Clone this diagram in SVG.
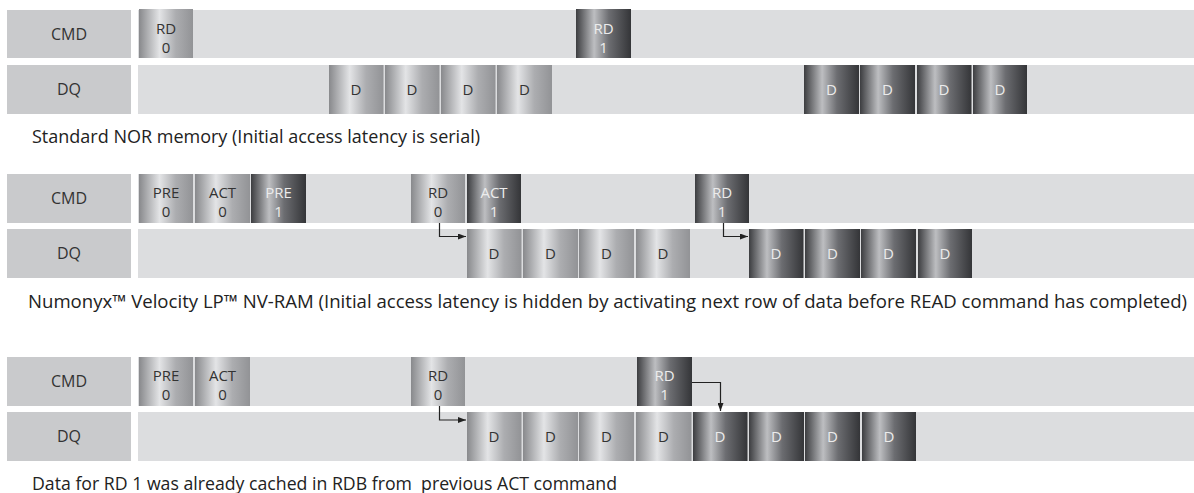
<svg xmlns="http://www.w3.org/2000/svg" width="1194" height="493" viewBox="0 0 1194 493">
<style>
.lbl{fill:#c9cacc}
.bar{fill:#dcdddf}
.t{font-family:"Open Sans","Liberation Sans",sans-serif;font-size:15px;fill:#333;text-anchor:middle}
.tw{font-family:"Open Sans","Liberation Sans",sans-serif;font-size:15px;fill:#ececec;text-anchor:middle}
.tl{font-family:"Open Sans","Liberation Sans",sans-serif;font-size:16px;fill:#333;text-anchor:middle}
.cap{font-family:"Open Sans","Liberation Sans",sans-serif;font-size:18px;fill:#222}
.lite{fill:url(#lg)}
.dark{fill:url(#dg)}
.conn{fill:none;stroke:#222;stroke-width:1.2}
</style>
<defs>
<linearGradient id="lg" x1="0" y1="0" x2="1" y2="0">
<stop offset="0" stop-color="#88898c"/>
<stop offset="0.38" stop-color="#e3e4e6"/>
<stop offset="0.68" stop-color="#acadb0"/>
<stop offset="1" stop-color="#929396"/>
</linearGradient>
<linearGradient id="dg" x1="0" y1="0" x2="1" y2="0">
<stop offset="0" stop-color="#3c3d40"/>
<stop offset="0.33" stop-color="#bdbec1"/>
<stop offset="0.6" stop-color="#6c6d71"/>
<stop offset="1" stop-color="#343538"/>
</linearGradient>
<marker id="ah" viewBox="0 0 8 6" refX="8" refY="3" markerWidth="8" markerHeight="6" markerUnits="userSpaceOnUse" orient="auto">
<path d="M0,0 L8,3 L0,6 z" fill="#222"/>
</marker>
</defs>

<!-- ===== Section 1 ===== -->
<g id="s1-cmd-label"><rect class="lbl" x="7" y="10" width="124" height="48"/><text class="tl" x="69" y="39.5">CMD</text></g>
<g id="s1-cmd-bar"><rect class="bar" x="138" y="10" width="1056" height="48"/></g>
<g id="s1-dq-label"><rect class="lbl" x="7" y="65" width="124" height="49"/><text class="tl" x="69" y="95">DQ</text></g>
<g id="s1-dq-bar"><rect class="bar" x="138" y="65" width="1056" height="49"/></g>
<g id="s1-rd0"><rect class="lite" x="139" y="9" width="54" height="49"/><text class="t" x="166" y="33.5">RD</text><text class="t" x="166" y="52.5">0</text></g>
<g id="s1-rd1"><rect class="dark" x="576" y="9" width="55" height="49"/><text class="tw" x="603.5" y="33.5">RD</text><text class="tw" x="603.5" y="52.5">1</text></g>
<g id="s1-d1"><rect class="lite" x="329" y="65" width="54.5" height="49"/><text class="t" x="356" y="94.5">D</text></g>
<g id="s1-d2"><rect class="lite" x="385" y="65" width="54.5" height="49"/><text class="t" x="412" y="94.5">D</text></g>
<g id="s1-d3"><rect class="lite" x="441" y="65" width="54.5" height="49"/><text class="t" x="468" y="94.5">D</text></g>
<g id="s1-d4"><rect class="lite" x="497" y="65" width="55" height="49"/><text class="t" x="524.5" y="94.5">D</text></g>
<g id="s1-d5"><rect class="dark" x="804" y="65" width="55" height="49"/><text class="tw" x="831.5" y="94.5">D</text></g>
<g id="s1-d6"><rect class="dark" x="860" y="65" width="55" height="49"/><text class="tw" x="887.5" y="94.5">D</text></g>
<g id="s1-d7"><rect class="dark" x="917" y="65" width="54.5" height="49"/><text class="tw" x="944" y="94.5">D</text></g>
<g id="s1-d8"><rect class="dark" x="973" y="65" width="54" height="49"/><text class="tw" x="1000" y="94.5">D</text></g>
<text class="cap" x="32" y="143" textLength="448" lengthAdjust="spacingAndGlyphs">Standard NOR memory (Initial access latency is serial)</text>

<!-- ===== Section 2 ===== -->
<g id="s2-cmd-label"><rect class="lbl" x="7" y="174" width="124" height="49"/><text class="tl" x="69" y="204">CMD</text></g>
<g id="s2-cmd-bar"><rect class="bar" x="138" y="174" width="1056" height="49"/></g>
<g id="s2-dq-label"><rect class="lbl" x="7" y="229" width="124" height="49"/><text class="tl" x="69" y="259">DQ</text></g>
<g id="s2-dq-bar"><rect class="bar" x="138" y="229" width="1056" height="49"/></g>
<g id="s2-pre0"><rect class="lite" x="139" y="174" width="54" height="49"/><text class="t" x="166" y="197.5">PRE</text><text class="t" x="166" y="216.5">0</text></g>
<g id="s2-act0"><rect class="lite" x="195" y="174" width="55" height="49"/><text class="t" x="222.5" y="197.5">ACT</text><text class="t" x="222.5" y="216.5">0</text></g>
<g id="s2-pre1"><rect class="dark" x="251" y="174" width="55" height="49"/><text class="tw" x="278.5" y="197.5">PRE</text><text class="tw" x="278.5" y="216.5">1</text></g>
<g id="s2-rd0"><rect class="lite" x="411" y="174" width="54" height="49"/><text class="t" x="438" y="197.5">RD</text><text class="t" x="438" y="216.5">0</text></g>
<g id="s2-act1"><rect class="dark" x="467" y="174" width="54" height="49"/><text class="tw" x="494" y="197.5">ACT</text><text class="tw" x="494" y="216.5">1</text></g>
<g id="s2-rd1"><rect class="dark" x="695" y="174" width="54" height="49"/><text class="tw" x="722" y="197.5">RD</text><text class="tw" x="722" y="216.5">1</text></g>
<g id="s2-d1"><rect class="lite" x="467" y="229" width="54.5" height="49"/><text class="t" x="494" y="259">D</text></g>
<g id="s2-d2"><rect class="lite" x="523" y="229" width="55" height="49"/><text class="t" x="550.5" y="259">D</text></g>
<g id="s2-d3"><rect class="lite" x="579" y="229" width="55" height="49"/><text class="t" x="606.5" y="259">D</text></g>
<g id="s2-d4"><rect class="lite" x="636" y="229" width="54" height="49"/><text class="t" x="663" y="259">D</text></g>
<g id="s2-d5"><rect class="dark" x="749" y="229" width="54.5" height="49"/><text class="tw" x="776" y="259">D</text></g>
<g id="s2-d6"><rect class="dark" x="805" y="229" width="55" height="49"/><text class="tw" x="832.5" y="259">D</text></g>
<g id="s2-d7"><rect class="dark" x="861" y="229" width="55" height="49"/><text class="tw" x="888.5" y="259">D</text></g>
<g id="s2-d8"><rect class="dark" x="918" y="229" width="54" height="49"/><text class="tw" x="945" y="259">D</text></g>
<text class="cap" x="28" y="308" textLength="1159" lengthAdjust="spacingAndGlyphs">Numonyx™ Velocity LP™ NV-RAM (Initial access latency is hidden by activating next row of data before READ command has completed)</text>

<!-- ===== Section 3 ===== -->
<g id="s3-cmd-label"><rect class="lbl" x="7" y="357" width="124" height="49"/><text class="tl" x="69" y="387">CMD</text></g>
<g id="s3-cmd-bar"><rect class="bar" x="138" y="357" width="1056" height="49"/></g>
<g id="s3-dq-label"><rect class="lbl" x="7" y="412" width="124" height="49"/><text class="tl" x="69" y="442">DQ</text></g>
<g id="s3-dq-bar"><rect class="bar" x="138" y="412" width="1056" height="49"/></g>
<g id="s3-pre0"><rect class="lite" x="139" y="357" width="54" height="49"/><text class="t" x="166" y="380.5">PRE</text><text class="t" x="166" y="399.5">0</text></g>
<g id="s3-act0"><rect class="lite" x="195" y="357" width="55" height="49"/><text class="t" x="222.5" y="380.5">ACT</text><text class="t" x="222.5" y="399.5">0</text></g>
<g id="s3-rd0"><rect class="lite" x="411" y="357" width="54" height="49"/><text class="t" x="438" y="380.5">RD</text><text class="t" x="438" y="399.5">0</text></g>
<g id="s3-rd1"><rect class="dark" x="637" y="357" width="55" height="49"/><text class="tw" x="664.5" y="380.5">RD</text><text class="tw" x="664.5" y="399.5">1</text></g>
<g id="s3-d1"><rect class="lite" x="467" y="412" width="54.5" height="49"/><text class="t" x="494" y="442">D</text></g>
<g id="s3-d2"><rect class="lite" x="523" y="412" width="55" height="49"/><text class="t" x="550.5" y="442">D</text></g>
<g id="s3-d3"><rect class="lite" x="579" y="412" width="55" height="49"/><text class="t" x="606.5" y="442">D</text></g>
<g id="s3-d4"><rect class="lite" x="636" y="412" width="55.5" height="49"/><text class="t" x="663.5" y="442">D</text></g>
<g id="s3-d5"><rect class="dark" x="693" y="412" width="54.5" height="49"/><text class="tw" x="720" y="442">D</text></g>
<g id="s3-d6"><rect class="dark" x="749" y="412" width="55" height="49"/><text class="tw" x="776.5" y="442">D</text></g>
<g id="s3-d7"><rect class="dark" x="805" y="412" width="55" height="49"/><text class="tw" x="832.5" y="442">D</text></g>
<g id="s3-d8"><rect class="dark" x="862" y="412" width="54" height="49"/><text class="tw" x="889" y="442">D</text></g>
<text class="cap" x="32" y="490" xml:space="preserve" textLength="585" lengthAdjust="spacingAndGlyphs">Data for RD 1 was already cached in RDB from  previous ACT command</text>

<!-- ===== Connectors ===== -->
<g id="connectors">
<path class="conn" d="M439.5 223 V236.5 H466" marker-end="url(#ah)"/>
<path class="conn" d="M723.5 223 V236.5 H748" marker-end="url(#ah)"/>
<path class="conn" d="M439.5 406 V420 H466" marker-end="url(#ah)"/>
<path class="conn" d="M692 382.5 H720.5 V411" marker-end="url(#ah)"/>
</g>
</svg>
